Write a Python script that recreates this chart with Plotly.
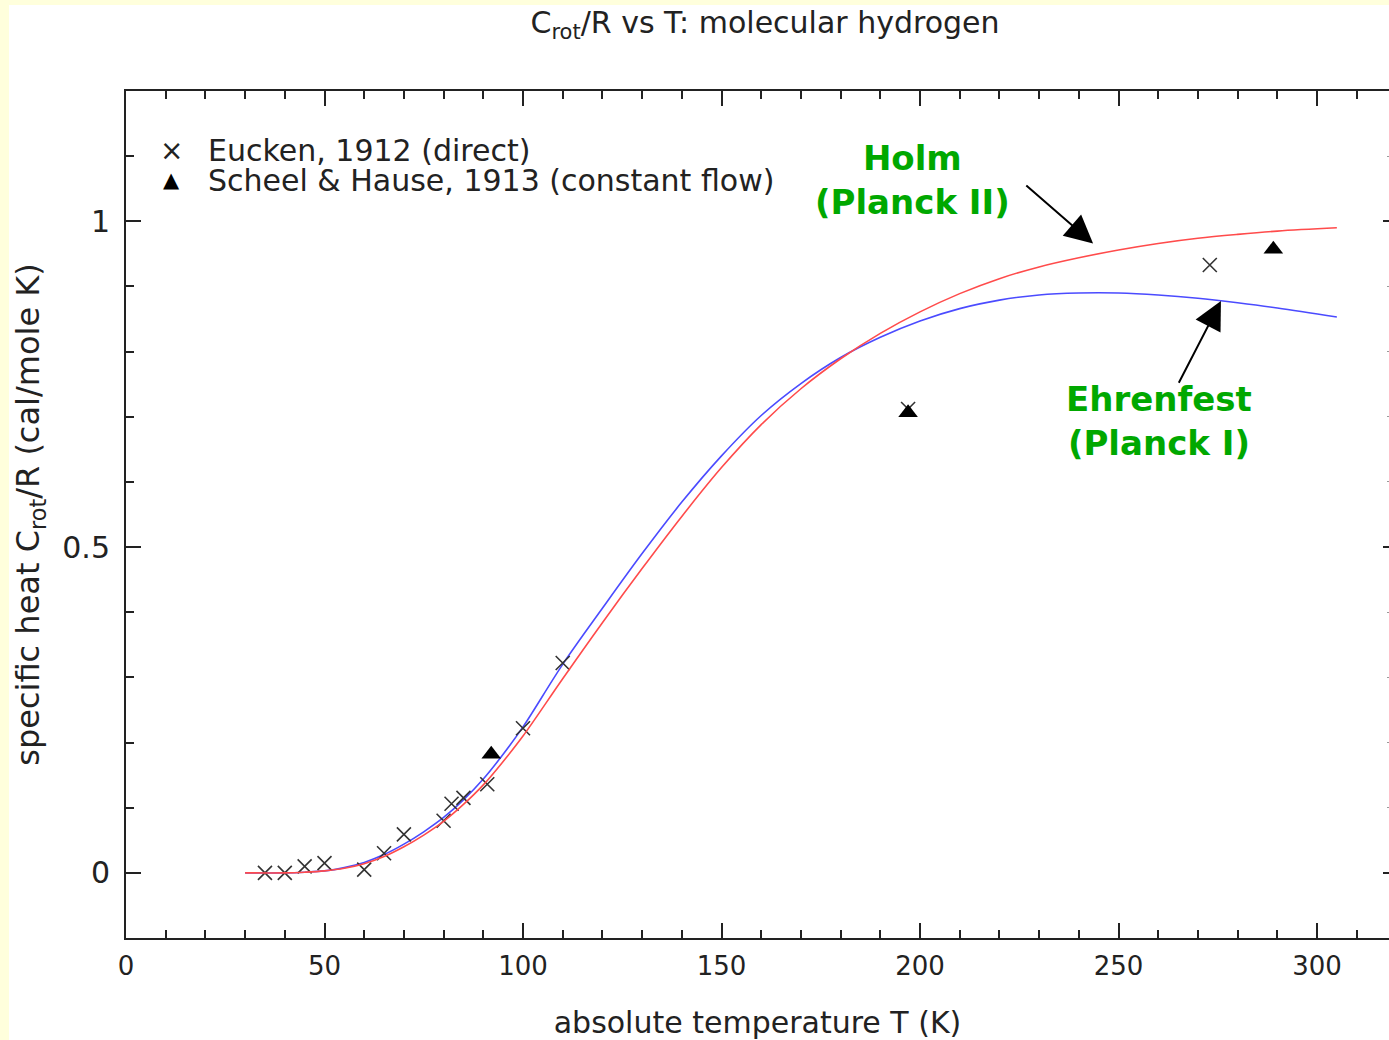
import plotly.graph_objects as go

# ---- data ----
eucken_T = [35, 40, 45, 50, 60, 65, 70, 80, 82, 85, 91, 100, 110, 197, 273]
eucken_C = [0.0, 0.0, 0.010, 0.015, 0.005, 0.030, 0.059, 0.080, 0.106, 0.115, 0.136, 0.222, 0.322, 0.712, 0.933]

scheel_T = [92, 197, 289]
scheel_C = [0.182, 0.706, 0.957]

curve_T = [30, 40, 45, 50, 55, 60, 65, 70, 75, 80, 85, 90, 95, 100, 110, 120, 130, 140,
           150, 160, 170, 180, 190, 200, 210, 220, 230, 240, 250, 260, 270, 280, 290, 305]
holm_C = [0.000, 0.000, 0.001, 0.003, 0.007, 0.014, 0.025, 0.040, 0.058, 0.079, 0.105, 0.135,
          0.171, 0.210, 0.298, 0.384, 0.467, 0.547, 0.622, 0.688, 0.743, 0.789, 0.828, 0.861,
          0.889, 0.912, 0.930, 0.944, 0.956, 0.966, 0.974, 0.980, 0.985, 0.990]
ehrenfest_C = [0.000, 0.000, 0.001, 0.003, 0.008, 0.016, 0.028, 0.044, 0.063, 0.085, 0.112, 0.144,
               0.182, 0.224, 0.320, 0.406, 0.490, 0.569, 0.640, 0.702, 0.751, 0.791, 0.822, 0.847,
               0.866, 0.879, 0.887, 0.890, 0.890, 0.887, 0.882, 0.875, 0.867, 0.853]

x_ticks = [0, 50, 100, 150, 200, 250, 300]
y_ticks = [0, 0.5, 1]
y_tick_text = ["0", "0.5", "1"]

FONT = "DejaVu Sans"
TXT = "#222222"
GREEN = "#00A800"

W, H = 1389, 1040
L, R, T, B = 126, 0, 91, 102
PW, PH = W - L - R, H - T - B


def px(xp):
    return (xp - L) / PW


def py(yp):
    return (H - B - yp) / PH


fig = go.Figure()

fig.add_trace(go.Scatter(x=curve_T, y=holm_C, mode="lines", line=dict(color="#FF4B4B", width=1.6, shape="spline"),
                         name="Holm (Planck II)", showlegend=False, yaxis="y2"))
fig.add_trace(go.Scatter(x=curve_T, y=ehrenfest_C, mode="lines", line=dict(color="#4B4BFF", width=1.6, shape="spline"),
                         name="Ehrenfest (Planck I)", showlegend=False))
fig.add_trace(go.Scatter(x=eucken_T, y=eucken_C, mode="markers", name="Eucken, 1912 (direct)",
                         marker=dict(symbol="x-thin", size=14, line=dict(color="#333333", width=1.6)),
                         showlegend=False))
fig.add_trace(go.Scatter(x=scheel_T, y=scheel_C, mode="markers", name="Scheel & Hause, 1913 (constant flow)",
                         marker=dict(symbol="triangle-up", size=17, color="black"), showlegend=False))

annotations = [
    dict(text="\u00d7", x=px(171), y=py(150), xref="paper", yref="paper", showarrow=False,
         font=dict(family=FONT, size=28, color=TXT), xanchor="center", yanchor="middle"),
    dict(text="Eucken, 1912 (direct)", x=px(206), y=py(150), xref="paper", yref="paper", showarrow=False,
         font=dict(family=FONT, size=30, color=TXT), xanchor="left", yanchor="middle"),
    dict(text="\u25b2", x=px(171), y=py(180), xref="paper", yref="paper", showarrow=False,
         font=dict(family=FONT, size=21, color="black"), xanchor="center", yanchor="middle"),
    dict(text="Scheel &amp; Hause, 1913 (constant flow)", x=px(206), y=py(180), xref="paper", yref="paper",
         showarrow=False, font=dict(family=FONT, size=30, color=TXT), xanchor="left", yanchor="middle"),
    dict(text="<b>Holm</b><br><b>(Planck II)</b>", x=px(912), y=py(180), xref="paper", yref="paper",
         showarrow=False, font=dict(family=FONT, size=34, color=GREEN), xanchor="center", yanchor="middle"),
    dict(text="<b>Ehrenfest</b><br><b>(Planck I)</b>", x=px(1159), y=py(421), xref="paper", yref="paper",
         showarrow=False, font=dict(family=FONT, size=34, color=GREEN), xanchor="center", yanchor="middle"),
    # arrows
    dict(text="", x=243.6, y=0.966, ax=226.4, ay=1.057, xref="x", yref="y", axref="x", ayref="y",
         showarrow=True, arrowhead=2, arrowsize=2.8, arrowwidth=2, arrowcolor="black", standoff=0),
    dict(text="", x=275.8, y=0.8775, ax=265.0, ay=0.750, xref="x", yref="y", axref="x", ayref="y",
         showarrow=True, arrowhead=2, arrowsize=2.8, arrowwidth=2, arrowcolor="black", standoff=0),
]

fig.update_layout(
    width=W, height=H,
    margin=dict(l=L, r=R, t=T, b=B),
    paper_bgcolor="#FFFFDC",
    plot_bgcolor="white",
    showlegend=False,
    title=dict(text="C<sub>rot</sub>/R vs T: molecular hydrogen", x=765 / W, xref="container",
               y=1 - 22 / H, yref="container", xanchor="center", yanchor="middle",
               font=dict(family=FONT, size=30, color=TXT)),
    font=dict(family=FONT, color=TXT),
    shapes=[dict(type="rect", xref="paper", yref="paper", x0=px(9), x1=px(W + 5), y0=py(5), y1=py(H + 5),
                 fillcolor="white", line=dict(width=0), layer="below")],
    annotations=annotations,
    xaxis=dict(range=[0, (W - L) / 3.97], tickvals=x_ticks, ticktext=[str(v) for v in x_ticks],
               ticks="inside", ticklen=15, tickwidth=2, tickcolor="#222",
               minor=dict(ticks="inside", ticklen=8, dtick=10, tick0=0, tickwidth=1.5, tickcolor="#222"),
               showline=True, linecolor="#222", linewidth=2, mirror="ticks",
               showgrid=False, zeroline=False, ticklabelstandoff=4,
               tickfont=dict(family=FONT, size=26, color=TXT),
               title=dict(text="absolute temperature T (K)", font=dict(family=FONT, size=30, color=TXT), standoff=36)),
    yaxis=dict(range=[-0.1, 1.2], tickvals=y_ticks, ticktext=y_tick_text,
               ticks="inside", ticklen=15, tickwidth=2, tickcolor="#222",
               minor=dict(ticks="inside", ticklen=8, dtick=0.1, tick0=0, tickwidth=1.5, tickcolor="#222"),
               showline=True, linecolor="#222", linewidth=2, mirror=False,
               showgrid=False, zeroline=False, ticklabelstandoff=8,
               tickfont=dict(family=FONT, size=30, color=TXT),
               title=dict(text="specific heat C<sub>rot</sub>/R (cal/mole K)", font=dict(family=FONT, size=32, color=TXT),
                          standoff=13)),
    yaxis2=dict(range=[-0.1, 1.2], overlaying="y", side="right", tickvals=y_ticks,
                ticks="inside", ticklen=6, tickwidth=2, tickcolor="#222",
                minor=dict(ticks="inside", ticklen=2, dtick=0.1, tick0=0, tickwidth=1, tickcolor="#999"),
                showline=False, showgrid=False, zeroline=False, showticklabels=False),
)

fig.write_html("out.html")
